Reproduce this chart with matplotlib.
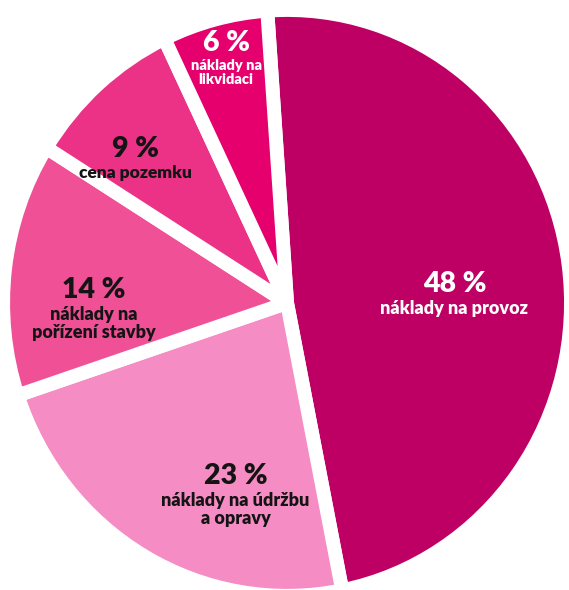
import numpy as np
import matplotlib.pyplot as plt

# data (clockwise from the top)
labels = ["náklady na provoz", "náklady na údržbu\na opravy", "náklady na\npořízení stavby",
          "cena pozemku", "náklady na\nlikvidaci"]
shares = [48, 23, 14, 9, 6]
colors = ["#BE0064", "#F58CC3", "#F05096", "#EB3287", "#E6006E"]
text_colors = ["white", "#141414", "#141414", "#141414", "white"]

# label placement: (angle in degrees, radius as fraction of pie radius, label size)
label_pos = [(2, 0.59, 13), (254, 0.66, 13), (180, 0.68, 13), (138, 0.72, 12.5), (104.3, 0.87, 10.5)]

fig = plt.figure(figsize=(5.69, 5.90), dpi=100)
ax = fig.add_axes([0, 0, 1, 1])

wedges, _ = ax.pie(
    shares,
    startangle=94,
    counterclock=False,
    colors=colors,
    radius=1.0,
    wedgeprops=dict(edgecolor="white", linewidth=10, joinstyle="round"),
)

font = "Lato"
for share, lab, tc, (ang, r, fs) in zip(shares, labels, text_colors, label_pos):
    x = r * np.cos(np.radians(ang))
    y = r * np.sin(np.radians(ang))
    ax.text(x, y, f"{share} %", ha="center", va="bottom", fontsize=20.5,
            fontweight="heavy", color=tc, family=font)
    ax.text(x, y - 0.01, lab, ha="center", va="top", fontsize=fs,
            fontweight="heavy", color=tc, family=font, linespacing=1.1)

# pie is photographed slightly taller than wide
ax.set_xlim(-1.011, 0.993)
ax.set_ylim(-0.980, 1.034)
ax.set_aspect("auto")
ax.axis("off")

fig.savefig("out.png", dpi=100, facecolor="white")
